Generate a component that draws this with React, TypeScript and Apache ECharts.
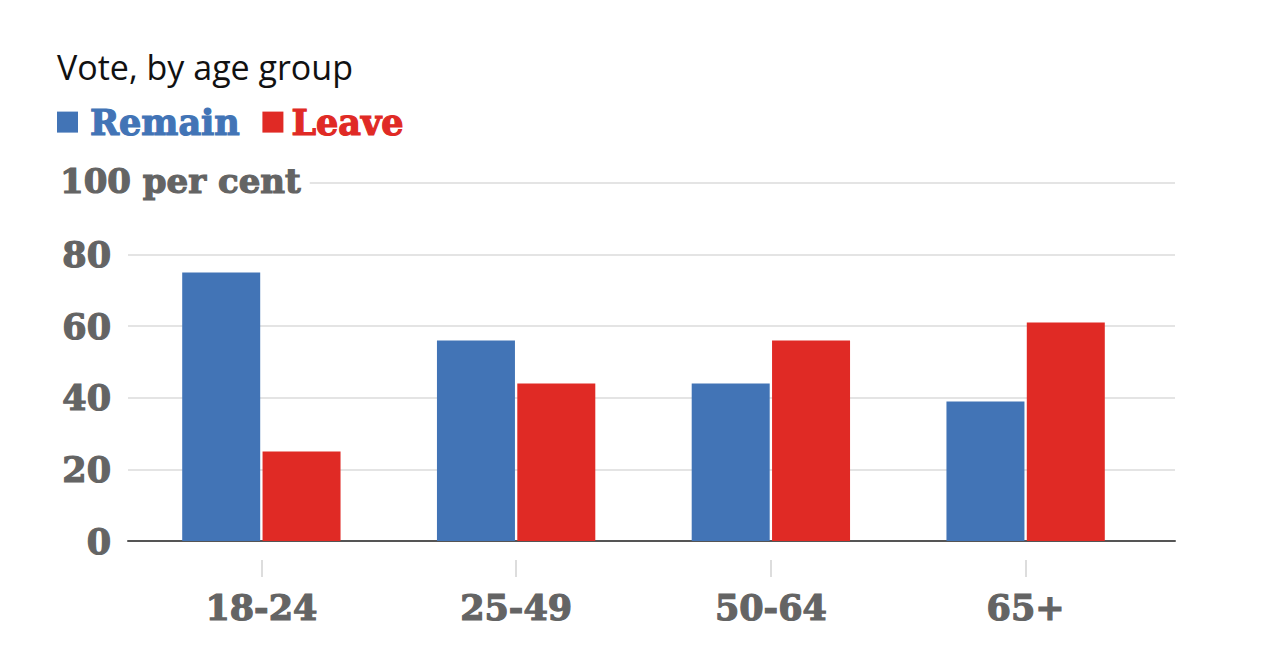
import React, { useEffect, useRef } from "react";
import * as echarts from "echarts";

const categories = ["18-24", "25-49", "50-64", "65+"];
const remain = [75, 56, 44, 39];
const leave = [25, 44, 56, 61];
const seriesNames = ["Remain", "Leave"];
const yTicks = [0, 20, 40, 60, 80, 100];

const BLUE = "#4274b6";
const RED = "#e02a25";
const GREY = "#646464";
const SLAB = "'DejaVu Serif', 'Liberation Serif', serif";

export default function App() {
  const ref = useRef<HTMLDivElement>(null);
  useEffect(() => {
    if (!ref.current) return;
    const chart = echarts.init(ref.current, null, { renderer: "svg" });
    const slabText = (color: string, size: number) => ({
      fontFamily: SLAB,
      fontWeight: "bold",
      fontSize: size,
      color,
      textBorderColor: color,
      textBorderWidth: 1.2,
    });
    chart.setOption({
      animation: false,
      backgroundColor: "#ffffff",
      title: {
        text: "Vote, by age group",
        left: 57,
        top: 50,
        padding: 0,
        textStyle: {
          fontFamily: "'Open Sans', sans-serif",
          fontWeight: "normal",
          fontSize: 34,
          color: "#111111",
        },
      },
      legend: {
        left: 57,
        top: 104,
        padding: 0,
        icon: "rect",
        itemWidth: 21,
        itemHeight: 21,
        itemGap: 22,
        data: [
          { name: seriesNames[0], textStyle: { ...slabText(BLUE, 35), padding: [0, 0, 0, 7] } },
          { name: seriesNames[1], textStyle: { ...slabText(RED, 35), padding: [0, 0, 0, 3] } },
        ],
        textStyle: { fontFamily: SLAB, fontWeight: "bold", fontSize: 35 },
      },
      grid: [
        { left: 128, right: 97, top: 183, bottom: 112 },
        { left: 134, right: 119, top: 183, bottom: 112 },
        { left: 134, right: 119, top: 183, bottom: 93 },
      ],
      xAxis: [
        {
          gridIndex: 0,
          type: "value",
          min: 0,
          max: 1,
          axisLine: { show: true, onZero: false, lineStyle: { color: "#555555", width: 2 } },
          axisTick: { show: false },
          axisLabel: { show: false },
          splitLine: { show: false },
        },
        {
          gridIndex: 1,
          type: "category",
          data: categories,
          axisLine: { show: false },
          axisTick: { show: false },
          axisLabel: { show: false },
        },
        {
          gridIndex: 2,
          type: "category",
          data: categories,
          axisLine: { show: false },
          axisTick: {
            show: true,
            alignWithLabel: true,
            length: 17,
            lineStyle: { color: "#dddddd", width: 2 },
          },
          axisLabel: {
            margin: 30,
            ...slabText(GREY, 35),
          },
        },
      ],
      yAxis: [
        {
          gridIndex: 0,
          type: "value",
          min: yTicks[0],
          max: yTicks[yTicks.length - 1],
          interval: 20,
          axisLine: { show: false },
          axisTick: { show: false },
          axisLabel: {
            margin: 17,
            ...slabText(GREY, 35),
            formatter: (v: number) => (v === 100 ? "" : String(v)),
          },
          splitLine: { show: true, lineStyle: { color: "#e4e4e4", width: 2 } },
        },
        {
          gridIndex: 1,
          type: "value",
          min: 0,
          max: 100,
          show: false,
          splitLine: { show: false },
        },
        {
          gridIndex: 2,
          type: "value",
          min: 0,
          max: 100,
          show: false,
          splitLine: { show: false },
        },
      ],
      graphic: [
        {
          type: "text",
          left: 59,
          top: 163,
          z: 100,
          style: {
            text: "100 per cent",
            fontFamily: SLAB,
            fontWeight: "bold",
            fontSize: 34,
            fill: GREY,
            stroke: GREY,
            lineWidth: 1.2,
            backgroundColor: "#ffffff",
            padding: [0, 9, 0, 1],
          },
        },
      ],
      series: [
        {
          name: seriesNames[0],
          type: "bar",
          xAxisIndex: 1,
          yAxisIndex: 1,
          data: remain,
          barWidth: 78,
          barGap: "3%",
          itemStyle: { color: BLUE },
          z: 3,
        },
        {
          name: seriesNames[1],
          type: "bar",
          xAxisIndex: 1,
          yAxisIndex: 1,
          data: leave,
          barWidth: 78,
          barGap: "3%",
          itemStyle: { color: RED },
          z: 3,
        },
      ],
    });
    return () => chart.dispose();
  }, []);
  return (
    <div
      ref={ref}
      style={{ position: "fixed", left: 0, top: 0, width: 1272, height: 653 }}
    />
  );
}
